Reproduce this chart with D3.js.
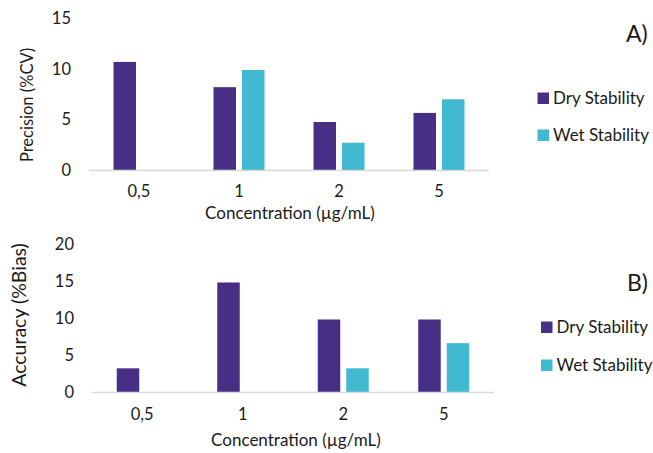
<!DOCTYPE html>
<html>
<head>
<meta charset="utf-8">
<script src="https://cdn.jsdelivr.net/npm/d3@7"></script>
<style>
  html, body { margin: 0; padding: 0; background: #fff; }
  svg { display: block; }
  text { font-family: Lato, "Open Sans", sans-serif; fill: #1a1a1a; }
</style>
</head>
<body>
<svg id="chart" width="653" height="453"></svg>
<script>
const categories = ["0,5", "1", "2", "5"];
const seriesNames = ["Dry Stability", "Wet Stability"];
const precisionDry = [10.7, 8.2, 4.75, 5.65];
const precisionWet = [null, 9.9, 2.7, 7.0];
const accuracyDry = [3.2, 14.8, 9.8, 9.8];
const accuracyWet = [null, null, 3.2, 6.6];
const precisionTicks = [0, 5, 10, 15];
const accuracyTicks = [0, 5, 10, 15, 20];
const colors = ["#472F85", "#41B9D1"];

const svg = d3.select("#chart");

function panel(cfg) {
  const g = svg.append("g");
  const x = d3.scaleBand().domain(categories).range([cfg.x0, cfg.x1]);
  const y = d3.scaleLinear().domain([0, cfg.yMax]).range([cfg.y0, cfg.yTop]);

  g.selectAll(".yt").data(cfg.ticks).enter().append("text")
    .attr("x", cfg.tickX).attr("y", d => y(d)).attr("dy", "0.35em")
    .attr("text-anchor", "end").style("font-size", "16.5px").text(d => d);

  const bw = 22.5, gap = 3;
  const data = [];
  categories.forEach((c, i) => {
    [cfg.dry[i], cfg.wet[i]].forEach((v, s) => {
      if (v != null) data.push({ c, v, s });
    });
  });
  g.selectAll(".bar").data(data).enter().append("rect")
    .attr("x", d => x(d.c) + x.bandwidth() / 2 + (d.s === 0 ? -gap - bw : gap))
    .attr("width", bw)
    .attr("y", d => y(d.v))
    .attr("height", d => y(0) - y(d.v))
    .attr("fill", d => colors[d.s]);

  g.append("line").attr("x1", cfg.x0).attr("x2", cfg.x1)
    .attr("y1", y(0) + 0.5).attr("y2", y(0) + 0.5)
    .attr("stroke", "#d9d9d9").attr("stroke-width", 1.5);

  g.selectAll(".xt").data(categories).enter().append("text")
    .attr("x", d => x(d) + x.bandwidth() / 2).attr("y", cfg.xLabY)
    .attr("text-anchor", "middle").style("font-size", "16.5px").text(d => d);

  g.append("text").attr("x", cfg.xTitleX).attr("y", cfg.xTitleY)
    .attr("text-anchor", "middle").style("font-size", "17px")
    .text("Concentration (µg/mL)");

  g.append("text")
    .attr("transform", `translate(${cfg.yTitleX},${cfg.yTitleY}) rotate(-90)`)
    .attr("text-anchor", "middle").style("font-size", cfg.yTitleSize)
    .text(cfg.yTitle);

  g.append("text").attr("x", cfg.labelX).attr("y", cfg.labelY)
    .style("font-size", "23px").text(cfg.label);

  seriesNames.forEach((n, s) => {
    g.append("rect").attr("x", cfg.legX).attr("y", cfg.legY[s])
      .attr("width", 11.5).attr("height", 11.5).attr("fill", colors[s]);
    g.append("text").attr("x", cfg.legX + 15.5).attr("y", cfg.legY[s] + 11.5)
      .style("font-size", "17px").text(n);
  });
}

panel({
  x0: 89, x1: 489, y0: 170, yTop: 18.5, yMax: 15, ticks: precisionTicks,
  dry: precisionDry, wet: precisionWet, tickX: 71, xLabY: 197,
  xTitleX: 290, xTitleY: 219, yTitle: "Precision (%CV)", yTitleX: 33, yTitleY: 105,
  yTitleSize: "16.5px", label: "A)", labelX: 626, labelY: 42,
  legX: 537.5, legY: [92.5, 129.5]
});

panel({
  x0: 92, x1: 494, y0: 392, yTop: 244, yMax: 20, ticks: accuracyTicks,
  dry: accuracyDry, wet: accuracyWet, tickX: 74, xLabY: 420,
  xTitleX: 296, xTitleY: 446, yTitle: "Accuracy (%Bias)", yTitleX: 26, yTitleY: 315,
  yTitleSize: "19.5px", label: "B)", labelX: 627, labelY: 291,
  legX: 541, legY: [321.5, 359.5]
});
</script>
</body>
</html>
